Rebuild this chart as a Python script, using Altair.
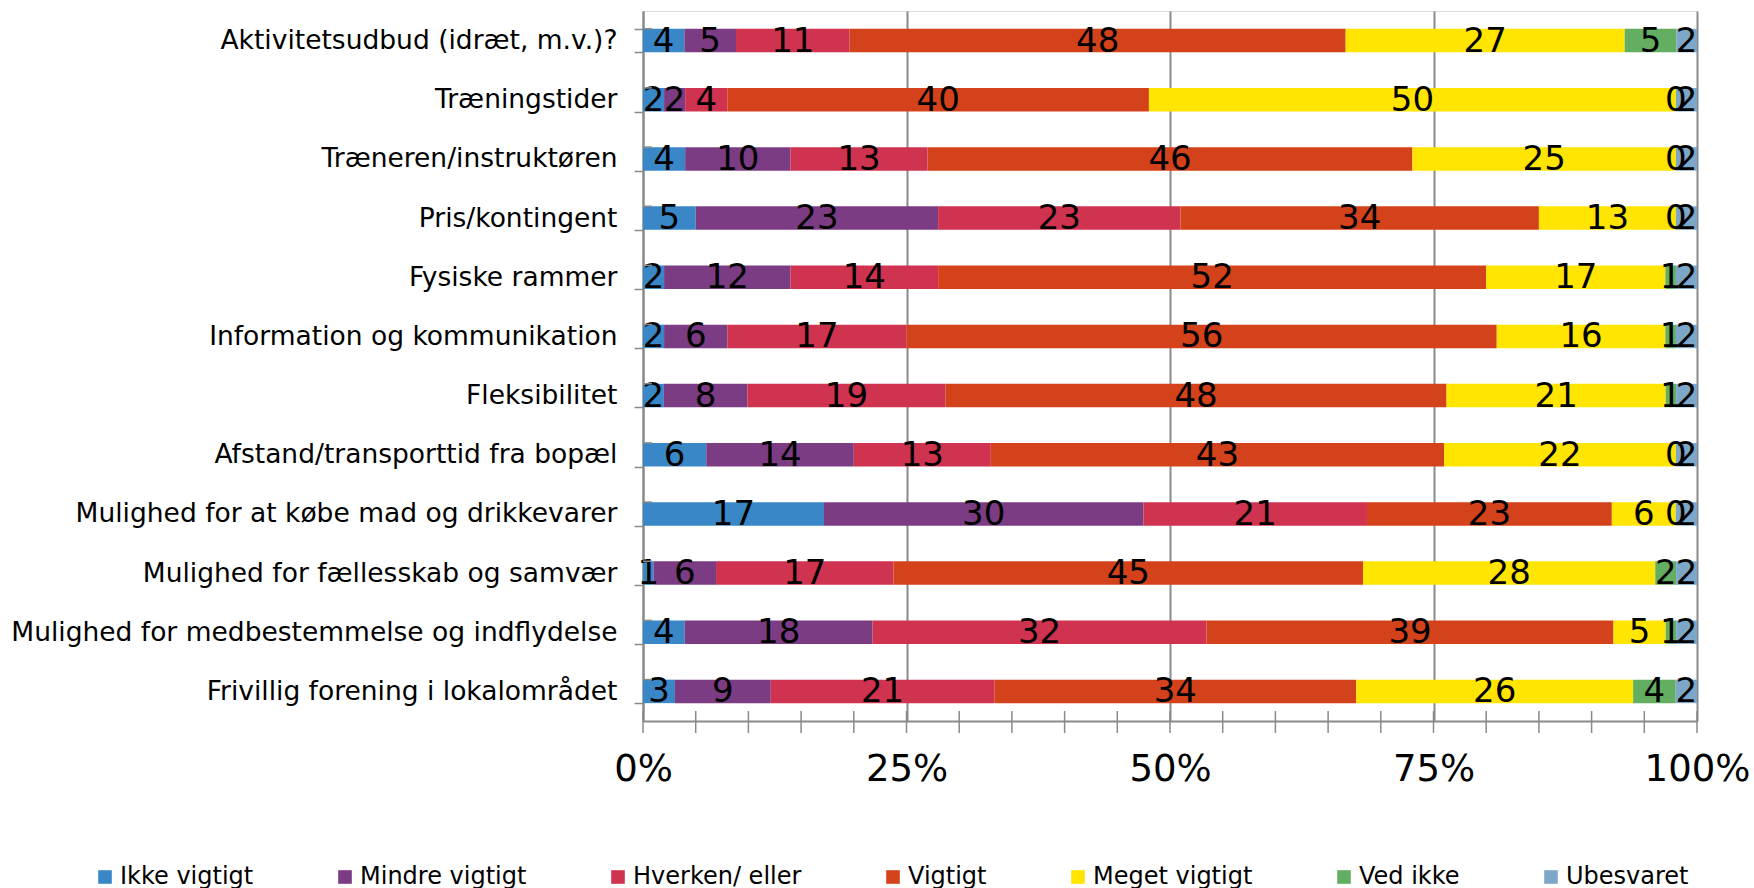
import altair as alt
import pandas as pd

FONT = "DejaVu Sans"

categories = [
    "Aktivitetsudbud (idræt, m.v.)?",
    "Træningstider",
    "Træneren/instruktøren",
    "Pris/kontingent",
    "Fysiske rammer ",
    "Information og kommunikation",
    "Fleksibilitet",
    "Afstand/transporttid fra bopæl",
    "Mulighed for at købe mad og drikkevarer",
    "Mulighed for fællesskab og samvær",
    "Mulighed for medbestemmelse og indflydelse",
    "Frivillig forening i lokalområdet",
]

series = ["Ikke vigtigt", "Mindre vigtigt", "Hverken/ eller", "Vigtigt",
          "Meget vigtigt", "Ved ikke", "Ubesvaret"]
colors = ["#3A87C8", "#7B3C84", "#CF3350", "#D4421C",
          "#FFE500", "#64AE62", "#7CA7C8"]

ikke_vigtigt   = [4, 2, 4, 5, 2, 2, 2, 6, 17, 1, 4, 3]
mindre_vigtigt = [5, 2, 10, 23, 12, 6, 8, 14, 30, 6, 18, 9]
hverken_eller  = [11, 4, 13, 23, 14, 17, 19, 13, 21, 17, 32, 21]
vigtigt        = [48, 40, 46, 34, 52, 56, 48, 43, 23, 45, 39, 34]
meget_vigtigt  = [27, 50, 25, 13, 17, 16, 21, 22, 6, 28, 5, 26]
ved_ikke       = [5, 0, 0, 0, 1, 1, 1, 0, 0, 2, 1, 4]
ubesvaret      = [2, 2, 2, 2, 2, 2, 2, 2, 2, 2, 2, 2]

x_ticks = [0.0, 0.05, 0.10, 0.15, 0.20, 0.25, 0.30, 0.35, 0.40, 0.45, 0.50,
           0.55, 0.60, 0.65, 0.70, 0.75, 0.80, 0.85, 0.90, 0.95, 1.0]
x_labels = [0.0, 0.25, 0.5, 0.75, 1.0]

all_values = [ikke_vigtigt, mindre_vigtigt, hverken_eller, vigtigt,
              meget_vigtigt, ved_ikke, ubesvaret]

rows = []
for order, (name, vals) in enumerate(zip(series, all_values)):
    for cat, v in zip(categories, vals):
        rows.append({"cat": cat, "series": name, "order": order, "value": v})
df = pd.DataFrame(rows)

AXIS_GRAY = "#8a8a8a"

y_enc = alt.Y("cat:N", sort=categories, title=None,
              axis=alt.Axis(tickBand="extent", ticks=True, tickSize=9,
                            tickColor=AXIS_GRAY, tickWidth=1.5,
                            domainColor=AXIS_GRAY, domainWidth=2,
                            labelFont=FONT, labelFontSize=26.5,
                            labelColor="black", labelPadding=17,
                            labelLimit=700))

x_scale = alt.Scale(domain=[0, 1], nice=False, zero=True)

base = (
    alt.Chart(df)
    .transform_stack(stack="value", as_=["v0", "v1"], groupby=["cat"],
                     sort=[alt.SortField("order", "ascending")],
                     offset="normalize")
    .transform_calculate(mid="(datum.v0 + datum.v1) / 2")
)

bars = base.mark_bar(size=23.5).encode(
    y=y_enc,
    x=alt.X("v0:Q", scale=x_scale, title=None,
            axis=alt.Axis(values=x_labels, format="%", grid=True,
                          gridColor=AXIS_GRAY, gridWidth=2,
                          ticks=False, domainColor=AXIS_GRAY, domainWidth=2,
                          labelFont=FONT, labelFontSize=37,
                          labelColor="black", labelBaseline="middle",
                          labelPadding=48, labelFlush=False)),
    x2="v1:Q",
    color=alt.Color("series:N", scale=alt.Scale(domain=series, range=colors),
                    legend=alt.Legend(title=None, orient="none",
                                      direction="horizontal", columns=7,
                                      legendX=-550, legendY=854,
                                      symbolType="square", symbolSize=185,
                                      symbolStrokeWidth=0,
                                      labelFont=FONT, labelFontSize=24,
                                      labelColor="black", labelOffset=3,
                                      labelLimit=400,
                                      columnPadding=79)),
    order=alt.Order("order:Q"),
)

labels = base.mark_text(font=FONT, fontSize=34, color="black",
                        align="center", baseline="middle", dy=1).encode(
    y=alt.Y("cat:N", sort=categories),
    x=alt.X("mid:Q", scale=x_scale),
    text=alt.Text("value:Q"),
)

# small tick marks along the percentage axis, crossing the axis line
minor = alt.Chart(pd.DataFrame({"t": x_ticks})).mark_rule(
    color=AXIS_GRAY, strokeWidth=1.5).encode(
    x=alt.X("t:Q", scale=x_scale),
    y=alt.value(700), y2=alt.value(722),
)

# inner half of the category separator ticks
sep = alt.Chart(pd.DataFrame({"cat": categories})).mark_rule(
    color=AXIS_GRAY, strokeWidth=1.5).encode(
    y=alt.Y("cat:N", sort=categories, bandPosition=0),
    x=alt.value(0), x2=alt.value(9),
)

chart = (
    alt.layer(bars, labels, minor, sep)
    .properties(width=1054, height=710,
                autosize=alt.AutoSizeParams(type="none"),
                padding={"left": 643, "top": 11, "right": 57, "bottom": 167})
    .configure_view(stroke=None)
    .configure(font=FONT)
    .configure_scale(bandPaddingInner=0.6)
)

chart.save("out.html", embed_options={"renderer": "svg", "actions": False})
